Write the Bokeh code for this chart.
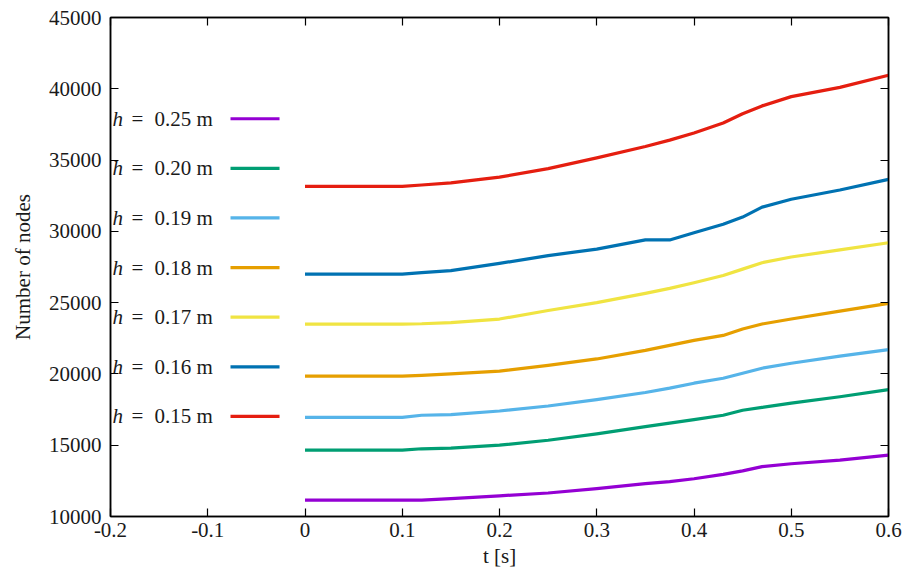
from bokeh.plotting import figure
from bokeh.models import FixedTicker, LinearAxis, Range1d, ColumnDataSource
from bokeh.core.properties import value
from bokeh.embed import file_html
from bokeh.resources import INLINE

# ---------------- data ----------------
t = [0.0, 0.1, 0.12, 0.15, 0.2, 0.25, 0.3, 0.35, 0.375, 0.4, 0.43, 0.45, 0.47, 0.5, 0.55, 0.6]

n_h025 = [11150, 11150, 11150, 11250, 11450, 11650, 11950, 12300, 12450, 12650, 12950, 13200, 13500, 13700, 13950, 14300]
n_h020 = [14650, 14650, 14750, 14800, 15000, 15350, 15800, 16300, 16550, 16800, 17100, 17450, 17650, 17950, 18400, 18900]
n_h019 = [16950, 16950, 17100, 17150, 17400, 17750, 18200, 18700, 19000, 19350, 19700, 20050, 20400, 20750, 21250, 21700]
n_h018 = [19850, 19850, 19900, 20000, 20200, 20600, 21050, 21650, 22000, 22350, 22700, 23150, 23500, 23850, 24400, 24950]
n_h017 = [23500, 23500, 23520, 23600, 23850, 24450, 25000, 25650, 26000, 26400, 26900, 27350, 27800, 28200, 28700, 29200]
n_h016 = [27000, 27000, 27100, 27250, 27750, 28300, 28750, 29400, 29400, 29900, 30500, 31000, 31700, 32250, 32900, 33650]
n_h015 = [33150, 33150, 33250, 33400, 33800, 34400, 35150, 35950, 36400, 36900, 37600, 38250, 38800, 39450, 40100, 40950]

series = [n_h025, n_h020, n_h019, n_h018, n_h017, n_h016, n_h015]
h_labels = ["0.25 m", "0.20 m", "0.19 m", "0.18 m", "0.17 m", "0.16 m", "0.15 m"]
colors = ["#9400D3", "#009E73", "#56B4E9", "#E69F00", "#F0E442", "#0072B2", "#E51E10"]

x_ticks = [-0.2, -0.1, 0, 0.1, 0.2, 0.3, 0.4, 0.5, 0.6]
x_tick_labels = ["-0.2", "-0.1", "0", "0.1", "0.2", "0.3", "0.4", "0.5", "0.6"]
y_ticks = [10000, 15000, 20000, 25000, 30000, 35000, 40000, 45000]
y_tick_labels = ["10000", "15000", "20000", "25000", "30000", "35000", "40000", "45000"]

# ---------------- style ----------------
FONT = "Liberation Serif"
FS = "21px"
TXT = "#1a1a1a"

p = figure(width=902, height=574,
           x_range=Range1d(-0.2, 0.6), y_range=Range1d(10000, 45000),
           output_backend="svg", toolbar_location=None,
           min_border_left=110, min_border_right=14,
           min_border_top=17, min_border_bottom=58)
p.xgrid.visible = False
p.ygrid.visible = False
p.outline_line_color = "black"
p.outline_line_width = 1.5
p.outline_line_alpha = 1.0
p.background_fill_color = "white"
p.border_fill_color = "white"


def style_axis(ax, ticks, labels, show_labels):
    ax.ticker = FixedTicker(ticks=ticks)
    if show_labels:
        ax.major_label_overrides = dict(zip(ticks, labels))
    else:
        ax.major_label_overrides = {tk: "" for tk in ticks}
        ax.major_label_standoff = 0
    ax.major_tick_in = 8
    ax.major_tick_out = 0
    ax.minor_tick_in = 0
    ax.minor_tick_out = 0
    ax.major_tick_line_color = "black"
    ax.major_tick_line_width = 1.2
    ax.axis_line_color = "black"
    ax.axis_line_width = 1.5
    ax.major_label_text_font = FONT
    ax.major_label_text_font_size = FS
    ax.major_label_text_color = TXT


style_axis(p.xaxis[0], x_ticks, x_tick_labels, True)
style_axis(p.yaxis[0], y_ticks, y_tick_labels, True)
p.xaxis[0].major_label_standoff = 6
p.yaxis[0].major_label_standoff = 9

p.xaxis[0].axis_label = "t [s]"
p.yaxis[0].axis_label = "Number of nodes"
for ax in (p.xaxis[0], p.yaxis[0]):
    ax.axis_label_text_font = FONT
    ax.axis_label_text_font_size = FS
    ax.axis_label_text_font_style = "normal"
    ax.axis_label_text_color = TXT
p.xaxis[0].axis_label_standoff = 4
p.yaxis[0].axis_label_standoff = 11

top_ax = LinearAxis()
style_axis(top_ax, x_ticks, x_tick_labels, False)
p.add_layout(top_ax, "above")
right_ax = LinearAxis()
style_axis(right_ax, y_ticks, y_tick_labels, False)
p.add_layout(right_ax, "right")

# ---------------- series ----------------
for vals, col in zip(series, colors):
    p.line(t, vals, line_color=col, line_width=3.2, line_join="round")

# ---------------- key (label left of sample line) ----------------
KEY_TOP = 37900
KEY_STEP = 3480
key_y = [KEY_TOP - i * KEY_STEP for i in range(len(h_labels))]
key_src = ColumnDataSource(dict(
    y=key_y, x=[-0.2] * len(key_y),
    x0=[-0.0766] * len(key_y), x1=[-0.0262] * len(key_y),
    h=["h"] * len(key_y), eq=["="] * len(key_y),
    lab=h_labels, col=colors))

p.segment(x0="x0", x1="x1", y0="y", y1="y", line_color="col",
          line_width=3.2, source=key_src)
p.text(x="x", y="y", text="h", x_offset=2, source=key_src,
       text_font=value(FONT), text_font_size=FS, text_font_style="italic",
       text_color=TXT, text_baseline="middle", text_align="left")
p.text(x="x", y="y", text="eq", x_offset=21, source=key_src,
       text_font=value(FONT), text_font_size=FS,
       text_color=TXT, text_baseline="middle", text_align="left")
p.text(x="x", y="y", text="lab", x_offset=44, source=key_src,
       text_font=value(FONT), text_font_size=FS,
       text_color=TXT, text_baseline="middle", text_align="left")

open("out.html", "w").write(file_html(p, INLINE))
